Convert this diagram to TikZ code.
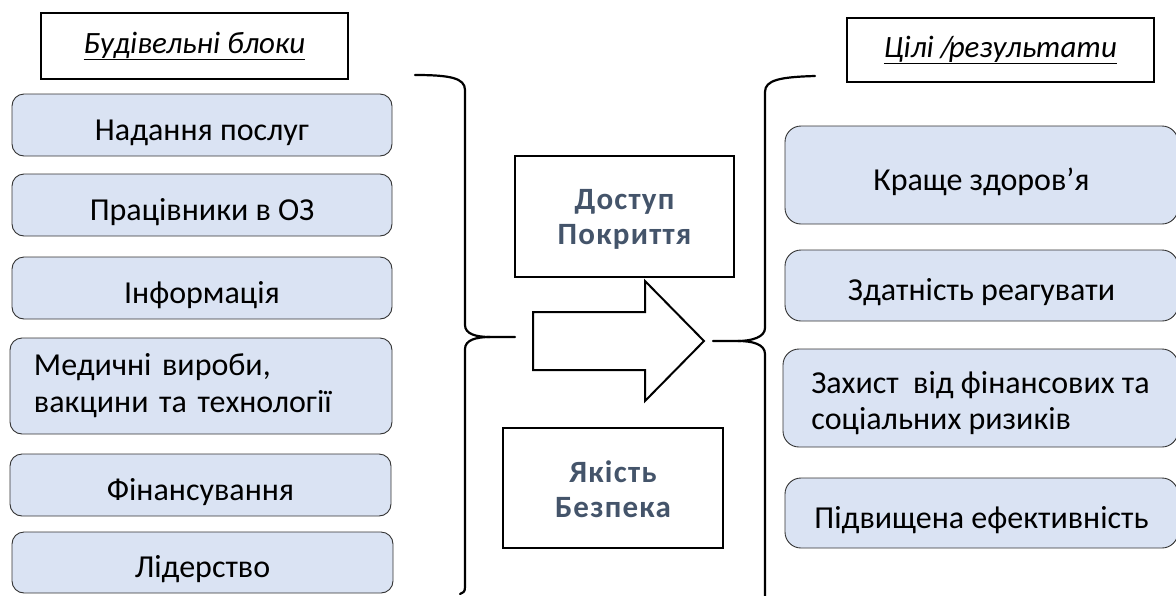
\documentclass[tikz,border=0pt]{standalone}
\usepackage{fontspec}
\setmainfont{Carlito}
\definecolor{boxfill}{HTML}{DAE3F3}
\definecolor{boxline}{HTML}{333333}
\definecolor{midtext}{HTML}{44546A}
\begin{document}
\begin{tikzpicture}[x=1pt,y=-1pt,
  block/.style={draw=boxline, line width=0.9pt, fill=boxfill, rounded corners=12pt,
    inner sep=0pt, font=\fontsize{32}{37}\selectfont, align=center,
    text height=30pt, text depth=0pt},
  rblock/.style={block, rounded corners=16pt},
  titlebox/.style={draw=black, line width=1.8pt, inner sep=0pt,
    font=\fontsize{31}{36}\selectfont\itshape, minimum width=307pt},
  midbox/.style={draw=black, line width=2.2pt, inner sep=0pt, align=center,
    font=\fontsize{31}{35}\selectfont\bfseries\addfontfeature{LetterSpace=4}, text=midtext,
    text depth=0pt},
  brace/.style={draw=black, line width=2.2pt, line cap=round, line join=round},
  bigarrow/.style={draw=black, line width=2pt, fill=white, line join=miter}]
\useasboundingbox (0,0) rectangle (1176,595);

% titles
\node[titlebox, minimum height=66pt] (tl) at (194.5,46) {\underline{Будівельні блоки}};
\node[titlebox, minimum height=64pt] (tr) at (1000.5,50) {\underline{Цілі /\kern-4pt результати}};

% left blocks
\node[block, minimum width=380pt, minimum height=62pt] (b1) at (202,125) {Надання послуг};
\node[block, minimum width=380pt, minimum height=62pt] (b2) at (202,205) {Працівники в ОЗ};
\node[block, minimum width=380pt, minimum height=62pt] (b3) at (202,288) {Інформація};
\node[block, minimum width=382pt, minimum height=96pt, align=left, text width=334pt,
      inner xsep=24pt, text height=24pt, text depth=45pt] (b4) at (201,386) {Медичні вироби,\\вакцини та технології};
\node[block, minimum width=381pt, minimum height=62pt] (b5) at (200.5,485) {Фінансування};
\node[block, minimum width=381pt, minimum height=61pt] (b6) at (202.5,562.5) {Лідерство};

% right blocks
\node[rblock, minimum width=393pt, minimum height=98pt] (r1) at (981.5,175) {Краще здоров’я};
\node[rblock, minimum width=393pt, minimum height=71pt] (r2) at (981.5,285.5) {Здатність реагувати};
\node[rblock, minimum width=395pt, minimum height=98pt, align=left,
      font=\fontsize{32}{36}\selectfont, text height=62pt] (r3) at (980.5,398) {Захист \ від фінансових та\\соціальних ризиків};
\node[rblock, minimum width=393pt, minimum height=70pt] (r4) at (981.5,513) {Підвищена ефективність};

% middle boxes
\node[midbox, minimum width=219pt, minimum height=121pt, text height=55pt] (c1) at (624.5,216.5) {Доступ\\Покриття};
\node[midbox, minimum width=220pt, minimum height=120pt, text height=58pt] (c2) at (613,488) {Якість\\Безпека};

% big arrow
\path[bigarrow] (533,312) -- (645,312) -- (645,281) -- (704,341) -- (645,401) -- (645,370) -- (533,370) -- cycle;

% left brace
\coordinate (ltip) at (515,337);
\coordinate (lmid) at (490,337);
\path[brace] (415,75) .. controls (450,75) and (465,78) .. (465,90) -- (465,325)
   .. controls (465,334) and (476,337) .. (lmid) -- (ltip);
\path[brace] (lmid) .. controls (476,337) and (465,340) .. (465,349) -- (465,587)
   .. controls (465,592) and (463,593) .. (460,594);

% right brace
\coordinate (rtip) at (713,341);
\coordinate (rmid) at (738,341);
\path[brace] (815,76) .. controls (780,77) and (765,80) .. (765,92) -- (765,328)
   .. controls (765,337) and (752,341) .. (rmid) -- (rtip);
\path[brace] (rmid) .. controls (752,341) and (765,344) .. (765,354) -- (765,600);
\end{tikzpicture}
\end{document}
